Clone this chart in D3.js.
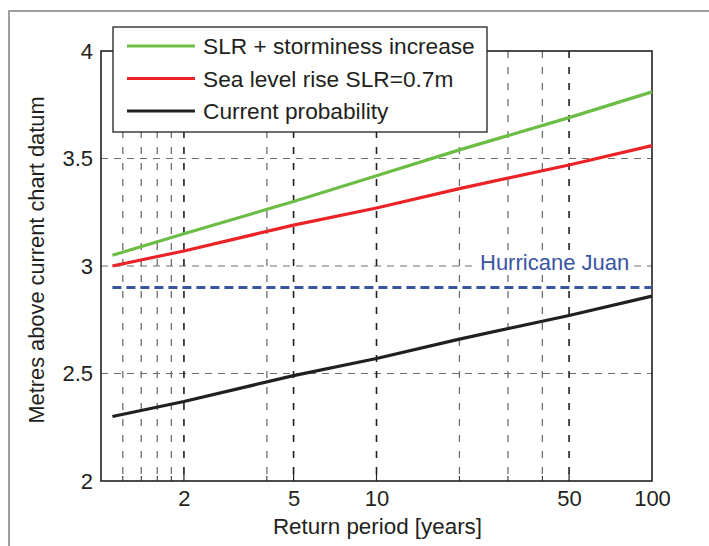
<!DOCTYPE html>
<html>
<head>
  <script src="https://d3js.org/d3.v7.min.js"></script>
  <style>
    body { margin: 0; background: #fff; }
    text { font-family: "Liberation Sans", Arial, sans-serif; fill: #231f20; }
  </style>
</head>
<body>
  <div id="plot"></div>
  <script>
    // return periods (years) where values were read
    var periods = [1.1, 2, 5, 10, 20, 50, 100];
    var stormValues = [3.05, 3.15, 3.30, 3.42, 3.54, 3.69, 3.81];
    var slrValues = [3.00, 3.07, 3.19, 3.27, 3.36, 3.47, 3.56];
    var currentValues = [2.30, 2.37, 2.49, 2.57, 2.66, 2.77, 2.86];
    var juanLevel = 2.90;

    var xTickLabels = [2, 5, 10, 50, 100];
    var xMajorGrid = [2, 5, 10, 50];
    var xMinorGrid = [1.2, 1.4, 1.6, 1.8, 4, 20, 30, 40];
    var yTicks = [2, 2.5, 3, 3.5, 4];

    var series = [
      {name: "SLR + storminess increase", values: stormValues, color: "#6cbd45"},
      {name: "Sea level rise SLR=0.7m", values: slrValues, color: "#ec2227"},
      {name: "Current probability", values: currentValues, color: "#231f20"}
    ];

    var w = 709, h = 546;
    var pLeft = 101, pRight = 652, pTop = 51, pBottom = 481;

    var svg = d3.select("#plot").append("svg")
      .attr("width", w)
      .attr("height", h);

    // figure frame
    svg.append("path")
      .attr("d", "M9," + h + "V11H" + w)
      .attr("fill", "none")
      .attr("stroke", "#808080")
      .attr("stroke-width", 1.5);

    var x = d3.scaleLog().domain([1, 100]).range([pLeft, pRight]);
    var y = d3.scaleLinear().domain([2, 4]).range([pBottom, pTop]);

    // grid
    svg.selectAll(".hgrid").data([2.5, 3, 3.5]).enter().append("line")
      .attr("x1", pLeft).attr("x2", pRight)
      .attr("y1", function(d) { return y(d); })
      .attr("y2", function(d) { return y(d); })
      .attr("stroke", "#6d6e70").attr("stroke-width", 1.2)
      .attr("stroke-dasharray", "7,6");

    svg.selectAll(".vminor").data(xMinorGrid).enter().append("line")
      .attr("x1", function(d) { return x(d); })
      .attr("x2", function(d) { return x(d); })
      .attr("y1", pTop).attr("y2", pBottom)
      .attr("stroke", "#6d6e70").attr("stroke-width", 1.3)
      .attr("stroke-dasharray", "7,9");

    svg.selectAll(".vmajor").data(xMajorGrid).enter().append("line")
      .attr("x1", function(d) { return x(d); })
      .attr("x2", function(d) { return x(d); })
      .attr("y1", pTop).attr("y2", pBottom)
      .attr("stroke", "#231f20").attr("stroke-width", 1.6)
      .attr("stroke-dasharray", "7,9");

    // axes
    var xAxis = d3.axisBottom(x)
      .tickValues(xTickLabels)
      .tickSize(0)
      .tickPadding(9)
      .tickFormat(d3.format("d"));

    var gx = svg.append("g")
      .attr("transform", "translate(0," + pBottom + ")")
      .call(xAxis);
    gx.select(".domain").remove();
    gx.selectAll("text").style("font-size", "22px").attr("fill", "#231f20")
      .attr("font-family", "Liberation Sans, Arial, sans-serif");

    var yAxis = d3.axisLeft(y)
      .tickValues(yTicks)
      .tickSize(0)
      .tickPadding(8)
      .tickFormat(function(d) { return d3.format("~g")(d); });

    var gy = svg.append("g")
      .attr("transform", "translate(" + pLeft + ",0)")
      .call(yAxis);
    gy.select(".domain").remove();
    gy.selectAll("text").style("font-size", "22px").attr("fill", "#231f20")
      .attr("font-family", "Liberation Sans, Arial, sans-serif");

    // inside tick marks along bottom
    svg.selectAll(".mtick").data(xMinorGrid).enter().append("line")
      .attr("x1", function(d) { return x(d); })
      .attr("x2", function(d) { return x(d); })
      .attr("y1", pBottom).attr("y2", pBottom - 5)
      .attr("stroke", "#231f20").attr("stroke-width", 1);
    svg.selectAll(".Mtick").data(xMajorGrid).enter().append("line")
      .attr("x1", function(d) { return x(d); })
      .attr("x2", function(d) { return x(d); })
      .attr("y1", pBottom).attr("y2", pBottom - 8)
      .attr("stroke", "#231f20").attr("stroke-width", 1.2);

    // plot frame
    svg.append("rect")
      .attr("x", pLeft).attr("y", pTop)
      .attr("width", pRight - pLeft).attr("height", pBottom - pTop)
      .attr("fill", "none")
      .attr("stroke", "#231f20").attr("stroke-width", 1.6);

    // Hurricane Juan
    svg.append("line")
      .attr("x1", x(periods[0])).attr("x2", x(100))
      .attr("y1", y(juanLevel)).attr("y2", y(juanLevel))
      .attr("stroke", "#3a54a4").attr("stroke-width", 3.2)
      .attr("stroke-dasharray", "9,5");

    var juanBg = svg.append("rect").attr("fill", "#fff");
    var juanText = svg.append("text")
      .attr("x", 480).attr("y", 270)
      .style("font-size", "22px")
      .style("fill", "#3a54a4")
      .text("Hurricane Juan");
    var bb = juanText.node().getBBox();
    juanBg.attr("x", bb.x - 5).attr("y", bb.y)
      .attr("width", bb.width + 10).attr("height", bb.height - 2);

    // series lines
    var line = d3.line()
      .x(function(d, i) { return x(periods[i]); })
      .y(function(d) { return y(d); });

    series.forEach(function(s) {
      svg.append("path")
        .attr("d", line(s.values))
        .attr("fill", "none")
        .attr("stroke", s.color)
        .attr("stroke-width", 3.2);
    });

    // legend
    var legend = svg.append("g");
    legend.append("rect")
      .attr("x", 113).attr("y", 27)
      .attr("width", 374).attr("height", 105)
      .attr("fill", "#fff")
      .attr("stroke", "#231f20").attr("stroke-width", 1.3);

    series.forEach(function(s, i) {
      var ly = 46 + i * 32.5;
      legend.append("line")
        .attr("x1", 127).attr("x2", 195)
        .attr("y1", ly).attr("y2", ly)
        .attr("stroke", s.color).attr("stroke-width", 3.2);
      legend.append("text")
        .attr("x", 203).attr("y", ly + 8)
        .style("font-size", "22.7px")
        .text(s.name);
    });

    // axis titles
    svg.append("text")
      .attr("x", (pLeft + pRight) / 2 + 1).attr("y", 534)
      .style("text-anchor", "middle")
      .style("font-size", "22.4px")
      .text("Return period [years]");

    svg.append("text")
      .attr("transform", "rotate(-90)")
      .attr("x", -260).attr("y", 44)
      .style("text-anchor", "middle")
      .style("font-size", "21.8px")
      .text("Metres above current chart datum");
  </script>
</body>
</html>
